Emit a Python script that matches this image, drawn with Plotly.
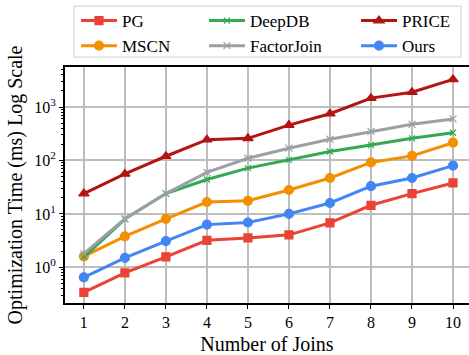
import plotly.graph_objects as go

joins = [1, 2, 3, 4, 5, 6, 7, 8, 9, 10]

pg = [0.34, 0.79, 1.57, 3.2, 3.55, 4.05, 6.8, 14.5, 24, 38]
mscn = [1.6, 3.8, 8.1, 16.7, 17.6, 28, 47, 92, 122, 215]
deepdb = [1.55, 8.0, 24, 44, 72, 103, 147, 195, 260, 330]
factorjoin = [1.8, 8.1, 24, 60, 110, 170, 250, 350, 475, 600]
price = [24, 56, 120, 245, 260, 460, 750, 1470, 1900, 3300]
ours = [0.65, 1.5, 3.1, 6.3, 6.9, 10, 16, 33, 47, 80]

y_tickvals = [1, 10, 100, 1000]
y_ticktext = ["10<sup>0</sup>", "10<sup>1</sup>", "10<sup>2</sup>", "10<sup>3</sup>"]

FONT = "serif"

series = [
    # name, values, color, marker symbol, marker size, legend column
    ("PG", pg, "#EA4335", "square", 8, "legend"),
    ("MSCN", mscn, "#F29000", "circle", 9, "legend"),
    ("DeepDB", deepdb, "#34A853", "x-thin-open", 6, "legend2"),
    ("FactorJoin", factorjoin, "#9AA0A6", "x-thin-open", 7, "legend2"),
    ("PRICE", price, "#B31412", "triangle-up", 9, "legend3"),
    ("Ours", ours, "#4285F4", "circle", 9, "legend3"),
]

fig = go.Figure()
for name, vals, color, sym, size, lg in series:
    fig.add_trace(go.Scatter(
        x=joins, y=vals, name=name, mode="lines+markers",
        line=dict(color=color, width=3),
        marker=dict(symbol=sym, size=size, color=color,
                    line=dict(color=color, width=1.2)),
        legend=lg,
    ))

minor_vals = [m * 10 ** k for k in range(-1, 4) for m in range(2, 10)]

legend_common = dict(
    orientation="v", bgcolor="rgba(0,0,0,0)", borderwidth=0,
    font=dict(family=FONT, size=17, color="black"),
    xref="paper", yref="container", xanchor="left", yanchor="top",
    y=1.0 - 3 / 355, tracegroupgap=0, itemwidth=36,
)

fig.update_layout(
    width=469, height=355,
    margin=dict(l=65, r=0, t=67, b=48),
    paper_bgcolor="white", plot_bgcolor="white",
    font=dict(family=FONT, size=16, color="black"),
    legend=dict(**legend_common, x=(76 - 65) / 404),
    legend2=dict(**legend_common, x=(204 - 65) / 404),
    legend3=dict(**legend_common, x=(356 - 65) / 404),
    xaxis=dict(
        range=[0.54, 10.39], tickvals=joins,
        showline=True, linecolor="black", linewidth=2, mirror=True,
        ticks="outside", ticklen=4, tickwidth=1, tickcolor="black",
        showgrid=True, gridcolor="#BDBDBD", gridwidth=1.5,
        zeroline=False,
        tickfont=dict(family=FONT, size=16),
        title=dict(text="Number of Joins", font=dict(family=FONT, size=20), standoff=10),
    ),
    yaxis=dict(
        type="log", range=[-0.668, 3.75],
        tickvals=y_tickvals, ticktext=y_ticktext,
        showline=True, linecolor="black", linewidth=2,
        ticks="outside", ticklen=4, tickwidth=1, tickcolor="black",
        minor=dict(tickvals=minor_vals, ticks="outside", ticklen=2,
                   tickwidth=0.8, tickcolor="black", showgrid=False),
        showgrid=True, gridcolor="#BDBDBD", gridwidth=1.5,
        zeroline=False,
        tickfont=dict(family=FONT, size=16),
        title=dict(text="Optimization Time (ms) Log Scale",
                   font=dict(family=FONT, size=20), standoff=6),
    ),
    shapes=[dict(
        type="rect", xref="paper", yref="paper",
        x0=(74 - 65) / 404, x1=(461 - 65) / 404,
        y0=(355 - 48 - 57) / 240, y1=(355 - 48 - 5) / 240,
        line=dict(color="#D9D9D9", width=1.2), fillcolor="white",
        layer="above",
    )],
)

fig.write_html("out.html")
